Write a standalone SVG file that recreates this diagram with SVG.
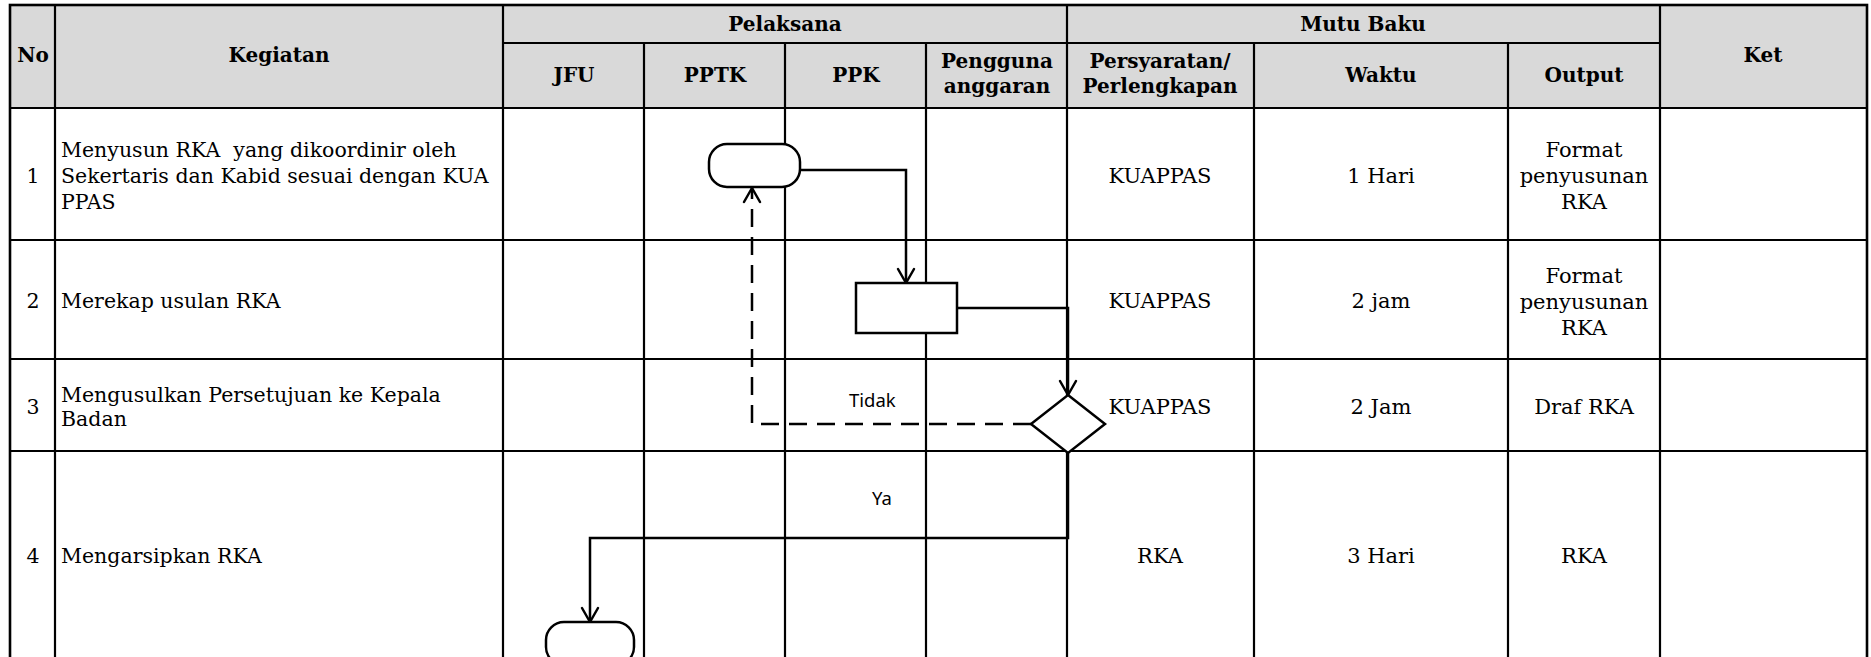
<svg xmlns="http://www.w3.org/2000/svg" width="1871" height="657" viewBox="0 0 1871 657">
  <style>
    .grid { stroke: #000; stroke-width: 2.2; fill: none; }
    .border { stroke: #000; stroke-width: 2.6; fill: none; }
    .hdr { font-family: "DejaVu Serif", "Liberation Serif", serif; font-weight: bold; font-size: 20px; fill: #000; text-anchor: middle; }
    .txt { font-family: "DejaVu Serif", "Liberation Serif", serif; font-size: 20.5px; fill: #000; white-space: pre; }
    .mid { text-anchor: middle; }
    .cell { font-family: "DejaVu Serif", "Liberation Serif", serif; font-size: 21px; fill: #000; text-anchor: middle; }
    .shape { stroke: #000; stroke-width: 2.5; fill: #fff; }
    .flow { stroke: #000; stroke-width: 2.5; fill: none; }
    .dash { stroke-dasharray: 18 10; }
    .lbl { font-family: "Noto Sans", "Open Sans", sans-serif; font-size: 18.5px; fill: #000; }
  </style>
  <defs>
    <marker id="arrow" markerUnits="userSpaceOnUse" markerWidth="20" markerHeight="20" refX="14" refY="8" orient="auto" overflow="visible">
      <path d="M0,0 L14,8 L0,16" fill="none" stroke="#000" stroke-width="2.5" stroke-linejoin="round" stroke-linecap="round"/>
    </marker>
  </defs>

  <rect x="0" y="0" width="1871" height="657" fill="#fff"/>

  <!-- table header band -->
  <rect x="10" y="5" width="1857" height="103" fill="#d9d9d9"/>

  <!-- table rules -->
  <g id="table-grid">
    <path class="grid" d="M503,43 H1660 M10,108 H1867 M10,240 H1867 M10,359 H1867 M10,451 H1867"/>
    <path class="grid" d="M55,5 V661 M503,5 V661 M1067,5 V661 M1660,5 V661 M644,43 V661 M785,43 V661 M926,43 V661 M1254,43 V661 M1508,43 V661"/>
    <rect class="border" x="10" y="5" width="1857" height="656"/>
  </g>

  <!-- header labels -->
  <g id="header">
    <text class="hdr" x="33" y="62">No</text>
    <text class="hdr" x="279" y="62">Kegiatan</text>
    <text class="hdr" x="785" y="31">Pelaksana</text>
    <text class="hdr" x="1363" y="31">Mutu Baku</text>
    <text class="hdr" x="1763" y="62">Ket</text>
    <text class="hdr" x="574" y="82">JFU</text>
    <text class="hdr" x="715" y="82">PPTK</text>
    <text class="hdr" x="856" y="82">PPK</text>
    <text class="hdr" x="997" y="68">Pengguna</text>
    <text class="hdr" x="997" y="93">anggaran</text>
    <text class="hdr" x="1160" y="68">Persyaratan/</text>
    <text class="hdr" x="1160" y="93">Perlengkapan</text>
    <text class="hdr" x="1381" y="82">Waktu</text>
    <text class="hdr" x="1584" y="82">Output</text>
  </g>

  <!-- step rows -->
  <g id="row-1">
    <text class="txt mid" x="33" y="183">1</text>
    <text class="txt" x="61" y="157" xml:space="preserve">Menyusun RKA  yang dikoordinir oleh</text>
    <text class="txt" x="61" y="183">Sekertaris dan Kabid sesuai dengan KUA</text>
    <text class="txt" x="61" y="209">PPAS</text>
    <text class="cell" x="1160" y="183">KUAPPAS</text>
    <text class="cell" x="1381" y="183">1 Hari</text>
    <text class="cell" x="1584" y="157">Format</text>
    <text class="cell" x="1584" y="183">penyusunan</text>
    <text class="cell" x="1584" y="209">RKA</text>
  </g>
  <g id="row-2">
    <text class="txt mid" x="33" y="308">2</text>
    <text class="txt" x="61" y="308">Merekap usulan RKA</text>
    <text class="cell" x="1160" y="308">KUAPPAS</text>
    <text class="cell" x="1381" y="308">2 jam</text>
    <text class="cell" x="1584" y="283">Format</text>
    <text class="cell" x="1584" y="309">penyusunan</text>
    <text class="cell" x="1584" y="335">RKA</text>
  </g>
  <g id="row-3">
    <text class="txt mid" x="33" y="414">3</text>
    <text class="txt" x="61" y="402">Mengusulkan Persetujuan ke Kepala</text>
    <text class="txt" x="61" y="426">Badan</text>
    <text class="cell" x="1160" y="414">KUAPPAS</text>
    <text class="cell" x="1381" y="414">2 Jam</text>
    <text class="cell" x="1584" y="414">Draf RKA</text>
  </g>
  <g id="row-4">
    <text class="txt mid" x="33" y="563">4</text>
    <text class="txt" x="61" y="563">Mengarsipkan RKA</text>
    <text class="cell" x="1160" y="563">RKA</text>
    <text class="cell" x="1381" y="563">3 Hari</text>
    <text class="cell" x="1584" y="563">RKA</text>
  </g>

  <!-- flow connectors -->
  <g id="connectors">
    <path class="flow" d="M800,170 H906 V283" marker-end="url(#arrow)"/>
    <path class="flow" d="M957,308 H1068 V395" marker-end="url(#arrow)"/>
    <path class="flow dash" d="M1031,424 H752 V188" marker-end="url(#arrow)"/>
    <path class="flow" d="M1068,453 V538 H590 V622" marker-end="url(#arrow)"/>
    <text class="lbl" x="849" y="407">Tidak</text>
    <text class="lbl" x="872" y="505">Ya</text>
  </g>

  <!-- flow nodes -->
  <g id="start">
    <rect class="shape" x="709" y="144" width="91" height="43" rx="18" ry="18"/>
  </g>
  <g id="recap">
    <rect class="shape" x="856" y="283" width="101" height="50"/>
  </g>
  <g id="decision">
    <polygon class="shape" points="1068,395 1105,424 1068,453 1031,424"/>
  </g>
  <g id="end">
    <rect class="shape" x="546" y="622" width="88" height="43" rx="18" ry="18"/>
  </g>
</svg>
